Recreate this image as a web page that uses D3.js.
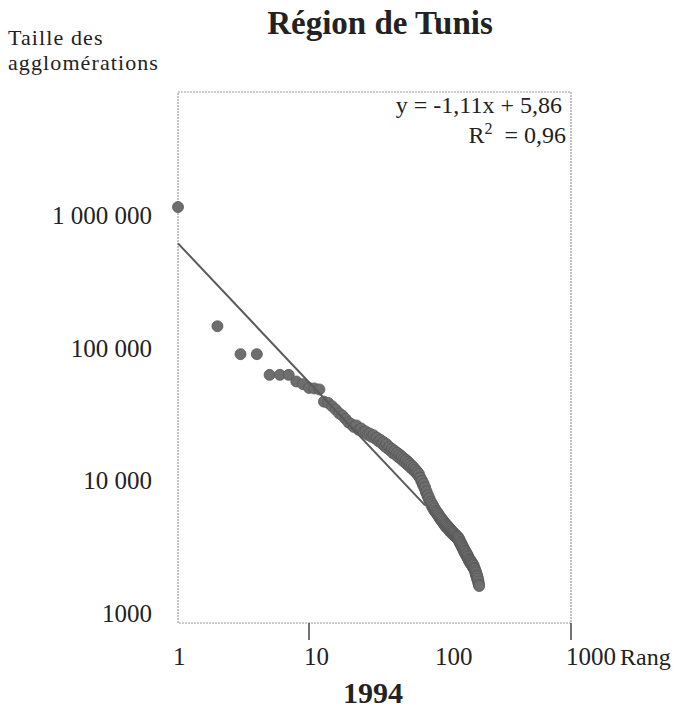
<!DOCTYPE html>
<html><head><meta charset="utf-8">
<script src="https://cdn.jsdelivr.net/npm/d3@7"></script>
<style>body{margin:0;background:#fff}svg{display:block}</style>
</head><body>
<svg id="chart" width="679" height="712"></svg>
<script>
const title = "Région de Tunis";
const yearLabel = "1994";
const yAxisTitle = ["Taille des", "agglomérations"];
const xAxisTitle = "Rang";
const xTickValues = [1, 10, 100, 1000];
const xTickLabels = ["1", "10", "100", "1000"];
const xTickMarks = [10, 1000];
const yTickValues = [1000, 10000, 100000, 1000000];
const yTickLabels = ["1000", "10 000", "100 000", "1 000 000"];
// agglomeration sizes in rank order (rank = position + 1)
const sizes = [
  1360000, 172000, 106000, 106000, 74000, 74000, 74000, 66000, 63000, 59000,
  58500, 57500, 46500, 45500, 43000, 40500, 38000, 36500, 34500, 32500,
  31500, 30000, 30800, 28500, 29200, 27500, 27800, 26200, 26800, 25300,
  26000, 24500, 24900, 23400, 24000, 22500, 23100, 21400, 22300, 20600,
  21200, 19800, 20500, 19000, 19800, 18500, 19200, 17800, 18600, 17300,
  18000, 16700, 17400, 16200, 16900, 15700, 16400, 15200, 15800, 14800,
  15300, 14300, 14800, 13900, 14300, 13500, 13800, 13000, 13300, 12500,
  12400, 11700, 11800, 11000, 11200, 10400, 10500, 9700, 9800, 9100,
  9200, 8600, 8700, 8100, 8200, 7700, 7900, 7400, 7600, 7100,
  7300, 6900, 7000, 6700, 6850, 6500, 6650, 6300, 6450, 6100,
  6250, 5950, 6100, 5800, 5950, 5650, 5800, 5500, 5650, 5350,
  5550, 5250, 5450, 5200, 5350,
  5100, 5250, 4950, 5150, 4850, 5050, 4800, 4950, 4700, 4850,
  4650, 4800, 4550, 4700, 4500, 4650, 4450, 4550, 4400, 4500,
  4350, 4450,
  4250, 4350, 4100, 4250, 4000, 4100, 3900, 4000, 3800, 3900,
  3700, 3800, 3600, 3700, 3500, 3600,
  3400, 3500, 3350, 3450, 3250, 3350, 3200, 3300, 3100, 3200,
  3050, 3150, 2950, 3050, 2900, 3000, 2850, 2950, 2800, 2900,
  2750, 2850, 2700, 2800, 2650, 2750, 2600, 2700, 2600,
  2550, 2500, 2550, 2400, 2450, 2300, 2400, 2250, 2300, 2150,
  2250, 2100, 2150, 2000, 2050, 1950, 1900
];
const trendRank = [1, 77];
const trendSize = [724000, 7700];
const equation = "y = -1,11x + 5,86";
const r2Value = "0,96";

const svg = d3.select("#chart");
const font = "'Liberation Serif', 'Times New Roman', serif";
const ink = "#222";

const x = d3.scaleLog().domain([1, 1000]).range([178, 571]);
const y = d3.scaleLog().domain([1000, 1e7]).range([623, 92]);

// frame (dotted)
svg.append("rect")
  .attr("x", x(1)).attr("y", y(1e7))
  .attr("width", x(1000) - x(1)).attr("height", y(1000) - y(1e7))
  .attr("fill", "none").attr("stroke", "#9a9a9a")
  .attr("stroke-width", 1.2).attr("stroke-dasharray", "2,1");

// x tick marks
svg.selectAll("line.xt").data(xTickMarks).enter().append("line")
  .attr("class", "xt")
  .attr("x1", d => x(d)).attr("x2", d => x(d))
  .attr("y1", y(1000)).attr("y2", y(1000) + 17)
  .attr("stroke", "#444").attr("stroke-width", 1.5);

// x tick labels
svg.selectAll("text.xl").data(xTickValues).enter().append("text")
  .attr("class", "xl")
  .attr("x", d => x(d) - 5).attr("y", 665)
  .attr("font-family", font).attr("font-size", 25).attr("fill", ink)
  .text((d, i) => xTickLabels[i]);

svg.append("text").attr("x", 620).attr("y", 665)
  .attr("font-family", font).attr("font-size", 24).attr("fill", ink)
  .text(xAxisTitle);

// y tick labels
svg.selectAll("text.yl").data(yTickValues).enter().append("text")
  .attr("class", "yl")
  .attr("x", 152).attr("y", d => y(d) - 1)
  .attr("text-anchor", "end")
  .attr("font-family", font).attr("font-size", 25).attr("fill", ink)
  .text((d, i) => yTickLabels[i]);

// y axis title
svg.selectAll("text.yt").data(yAxisTitle).enter().append("text")
  .attr("class", "yt")
  .attr("x", 8).attr("y", (d, i) => 45 + i * 25)
  .attr("font-family", font).attr("font-size", 22)
  .attr("letter-spacing", 1.1).attr("fill", ink)
  .text(d => d);

// title
svg.append("text").attr("x", 380).attr("y", 34)
  .attr("text-anchor", "middle")
  .attr("font-family", font).attr("font-size", 33).attr("font-weight", "bold")
  .attr("fill", ink).text(title);

// year
svg.append("text").attr("x", 373).attr("y", 703)
  .attr("text-anchor", "middle")
  .attr("font-family", font).attr("font-size", 30).attr("font-weight", "bold")
  .attr("fill", ink).text(yearLabel);

// points
const pts = sizes.map((v, i) => ({rank: i + 1, size: v}));
svg.append("g").selectAll("circle").data(pts).enter().append("circle")
  .attr("cx", d => x(d.rank)).attr("cy", d => y(d.size))
  .attr("r", 5.5)
  .attr("fill", "#6e6e6e").attr("stroke", "#585858").attr("stroke-width", 0.8);

// trend line
const trend = trendRank.map((r, i) => [r, trendSize[i]]);
svg.append("path")
  .attr("d", d3.line().x(d => x(d[0])).y(d => y(d[1]))(trend))
  .attr("fill", "none").attr("stroke", "#5a5a5a").attr("stroke-width", 2);

// equation
svg.append("text").attr("x", 562).attr("y", 113)
  .attr("text-anchor", "end")
  .attr("font-family", font).attr("font-size", 24).attr("fill", ink)
  .text(equation);
const r2 = svg.append("text").attr("x", 566).attr("y", 143)
  .attr("text-anchor", "end")
  .attr("font-family", font).attr("font-size", 24).attr("fill", ink);
r2.append("tspan").text("R");
r2.append("tspan").attr("dy", -9).attr("font-size", 16).text("2");
r2.append("tspan").attr("dy", 9).text("\u00a0\u00a0= " + r2Value);
</script>
</body></html>
